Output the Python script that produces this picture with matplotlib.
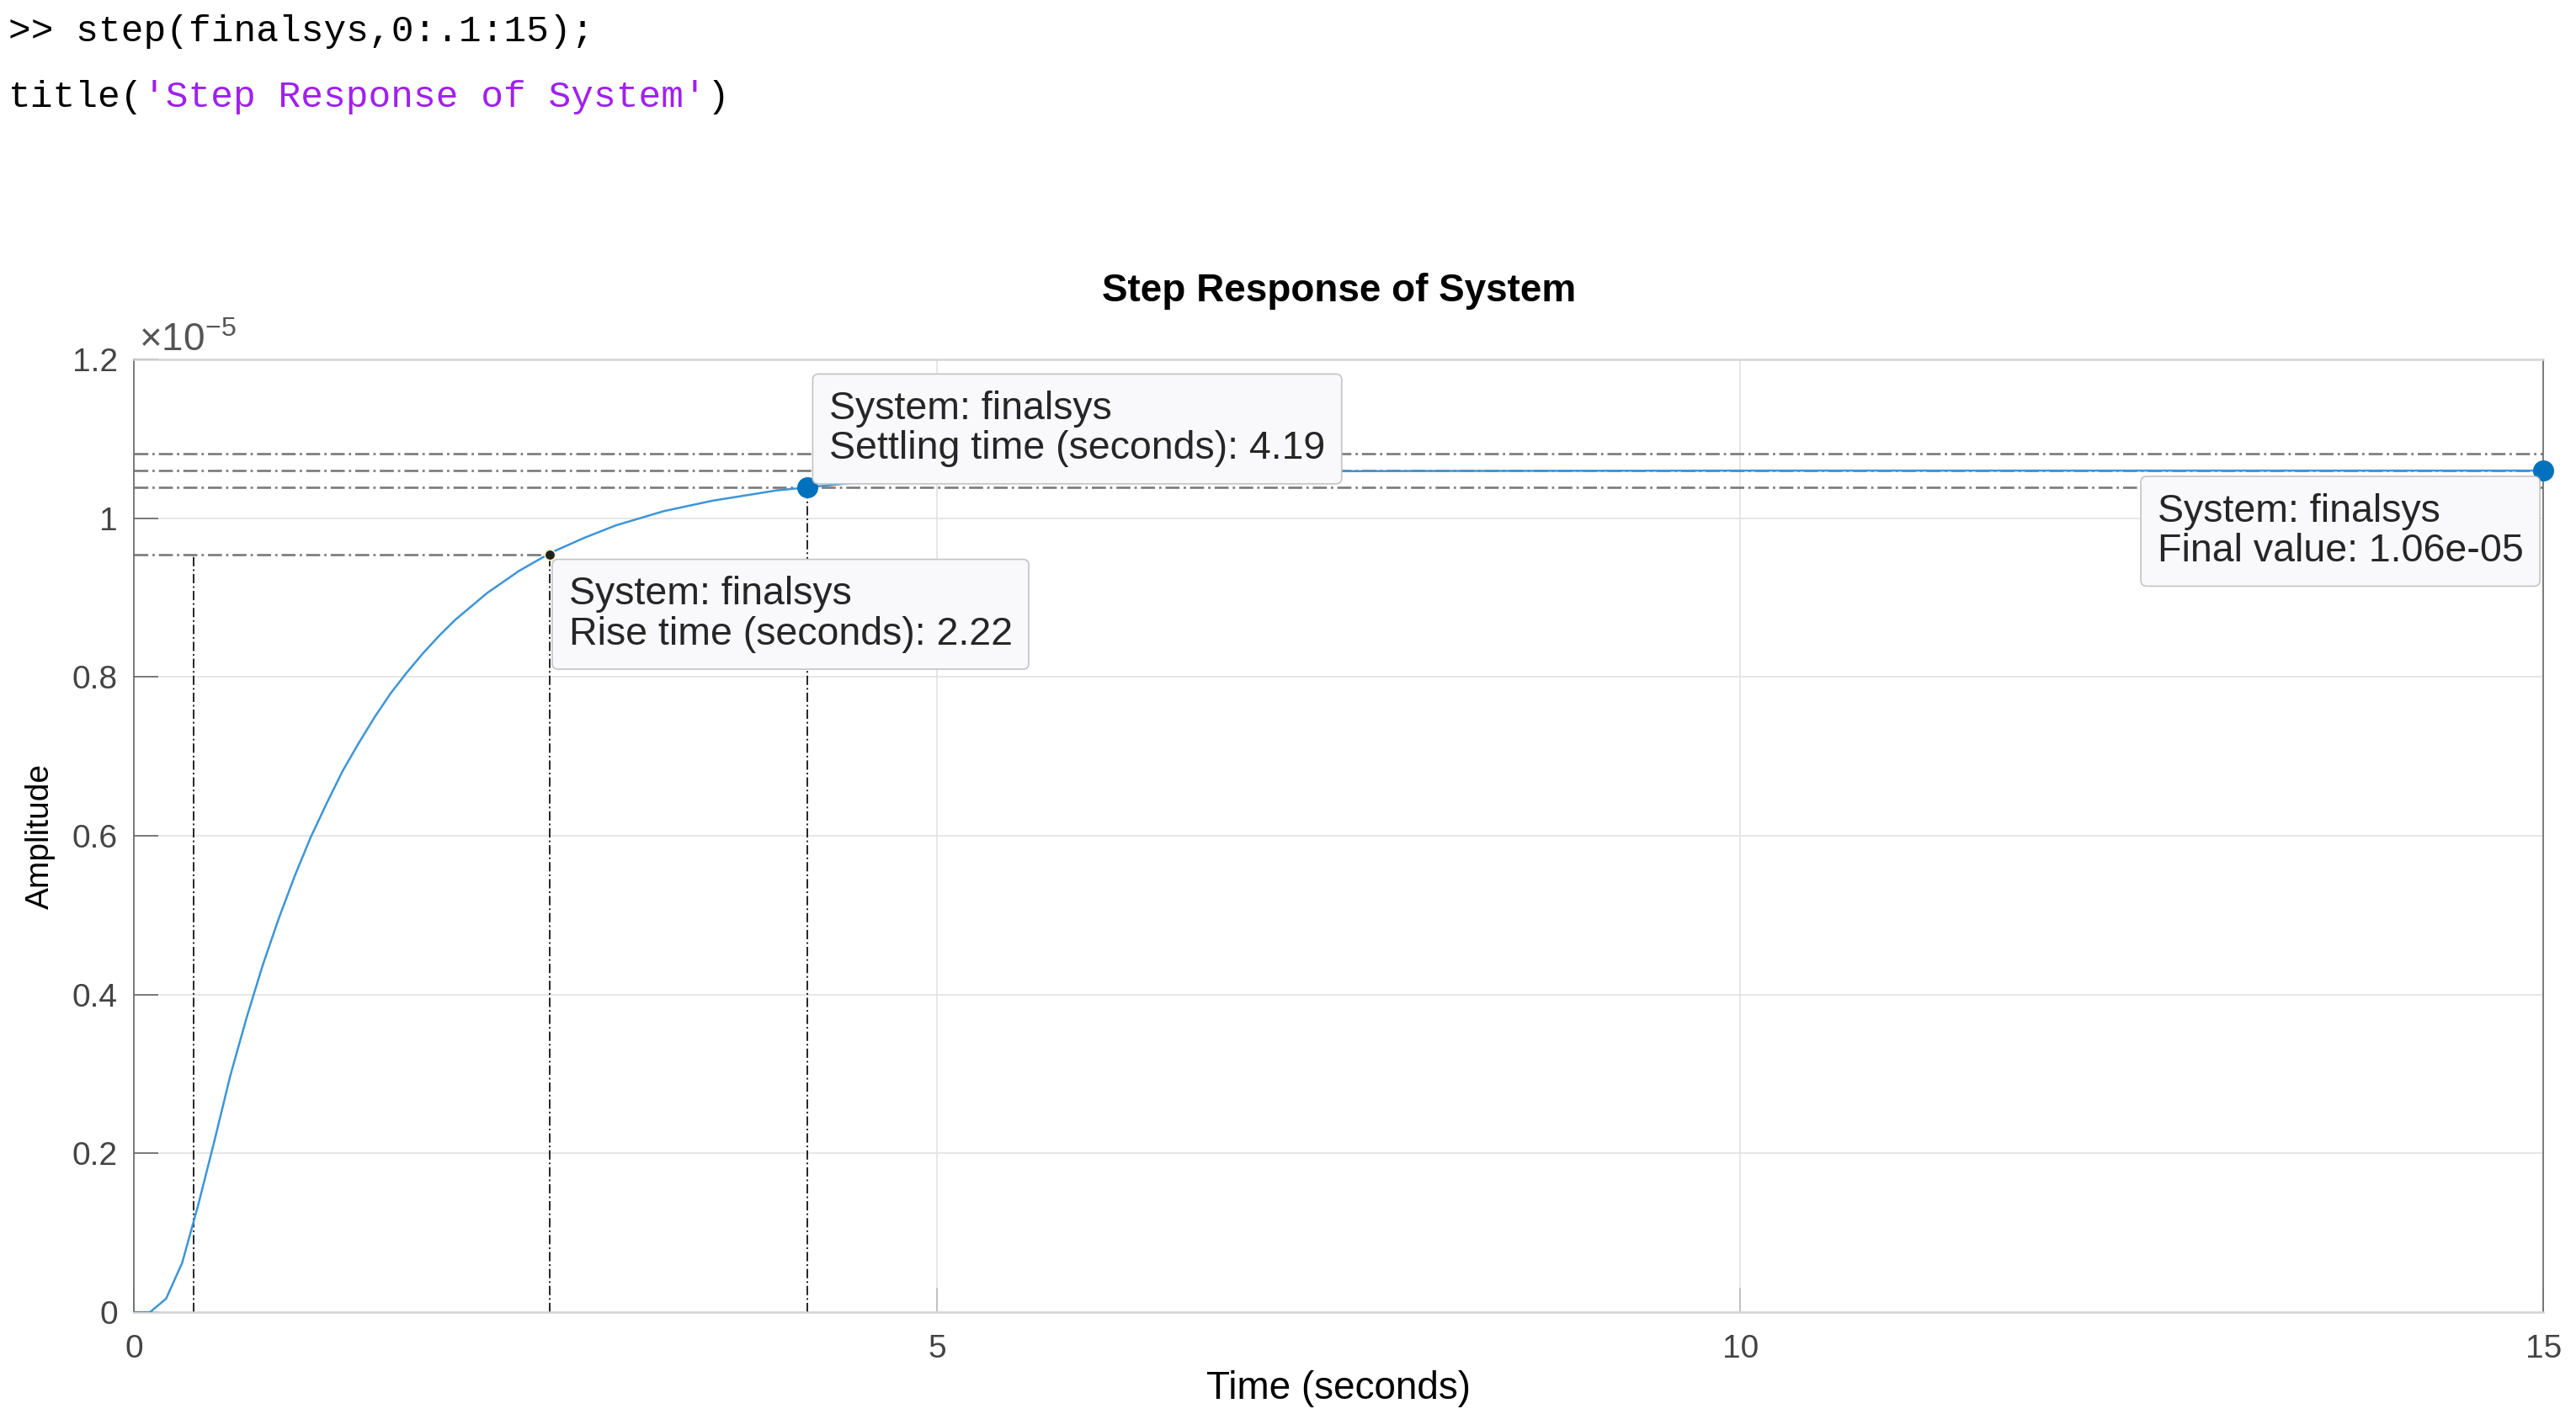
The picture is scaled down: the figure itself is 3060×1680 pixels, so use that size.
import matplotlib.pyplot as plt

plt.rcParams['font.family'] = ['Liberation Sans', 'DejaVu Sans']
plt.rcParams['mathtext.fontset'] = 'custom'
plt.rcParams['mathtext.rm'] = 'Liberation Sans'
plt.rcParams['lines.scale_dashes'] = False

# step(finalsys, 0:.1:15), amplitude in units of 1e-5
t = [0, 0.1, 0.2, 0.3, 0.4, 0.5, 0.6, 0.7, 0.8, 0.9, 1.0, 1.1, 1.2, 1.3,
     1.4, 1.5, 1.6, 1.7, 1.8, 1.9, 2.0, 2.2, 2.4, 2.6, 2.8, 3.0, 3.3, 3.6,
     4.0, 4.5, 5.0, 5.5, 6.0, 7.0, 8.0, 10.0, 15.0]
amp = [0, 0.0, 0.017, 0.062, 0.135, 0.215, 0.298, 0.37, 0.436, 0.495, 0.549,
       0.598, 0.641, 0.682, 0.717, 0.75, 0.78, 0.806, 0.83, 0.852, 0.872,
       0.906, 0.934, 0.957, 0.975, 0.991, 1.009, 1.022, 1.035, 1.045, 1.051,
       1.054, 1.057, 1.059, 1.0595, 1.06, 1.06]

# characteristics shown by the data tips
rise_times = [0.37, 2.59]     # 10% and 90% crossings
rise_level = 0.954
settle_time = 4.19
settle_level = 1.039
settle_band = [1.0388, 1.0812]
final_value = 1.06
t_end = 15

xticks = [0, 5, 10, 15]
yticks = [0, 0.2, 0.4, 0.6, 0.8, 1.0, 1.2]
ytick_labels = ['0', '0.2', '0.4', '0.6', '0.8', '1', '1.2']

fig = plt.figure(figsize=(30.6, 16.8), dpi=100)
ax = fig.add_axes([0.052, 0.072, 0.9353, 0.6738])

dashdot = (0, (12, 3.5, 2, 3.5))
vdashdot = (0, (8, 2.5, 1.5, 2.5))
grey = '#7a7a7a'

# characteristic lines
ax.plot([0, rise_times[1]], [rise_level, rise_level], color=grey,
        lw=1.9, linestyle=dashdot, zorder=2)
for rt in rise_times:
    ax.plot([rt, rt], [0, rise_level], color='black', lw=1.2,
            linestyle=vdashdot, zorder=2)
for lvl in settle_band + [final_value]:
    ax.plot([0, t_end], [lvl, lvl], color=grey, lw=1.9, linestyle=dashdot,
            zorder=2)
ax.plot([settle_time, settle_time], [0, settle_level], color='black', lw=1.2,
        linestyle=vdashdot, zorder=2)

# response
ax.plot(t, amp, color='#3d95d8', lw=1.8, zorder=3)

# data tip markers
ax.plot(rise_times[1], rise_level, 'o', ms=9, mfc='#222222', mec='#f4f0c0',
        mew=1.2, zorder=5)
ax.plot(settle_time, settle_level, 'o', ms=17, color='#0072BD', zorder=5)
ax.plot(t_end, final_value, 'o', ms=17, color='#0072BD', zorder=5,
        clip_on=False)

box = dict(boxstyle='round,pad=0.42,rounding_size=0.15', fc='#f9f9fc',
           ec='#c4c4c4', lw=1.2)
tip = dict(fontsize=33.5, color='#262626', bbox=box, linespacing=1.1,
           textcoords='offset points', zorder=10, annotation_clip=False,
           multialignment='left')
ax.annotate('System: finalsys\nRise time (seconds): 2.22',
            xy=(rise_times[1], rise_level), xytext=(16, -18),
            ha='left', va='top', **tip)
ax.annotate('System: finalsys\nSettling time (seconds): 4.19',
            xy=(settle_time, settle_level), xytext=(19, 17),
            ha='left', va='bottom', **tip)
ax.annotate('System: finalsys\nFinal value: 1.06e-05',
            xy=(t_end, final_value), xytext=(-17, -19),
            ha='right', va='top', **tip)

ax.set_xlim(0, t_end)
ax.set_ylim(0, 1.2)
ax.set_xticks(xticks)
ax.set_yticks(yticks)
ax.set_yticklabels(ytick_labels)
ax.tick_params(direction='in', length=21, width=1.2, color='#666666',
               labelcolor='#444444', labelsize=28, pad=14)
ax.tick_params(axis='x', pad=19, color='#bbbbbb')
ax.grid(True, color='#e4e4e4', lw=1.3)
ax.set_axisbelow(True)
for side in ['top', 'bottom']:
    ax.spines[side].set_color('#d4d4d4')
    ax.spines[side].set_linewidth(1.8)
for side in ['left', 'right']:
    ax.spines[side].set_color('#666666')
    ax.spines[side].set_linewidth(1.2)

ax.text(0.002, 1.0, r'$\mathregular{\times10^{-5}}$', transform=ax.transAxes,
        fontsize=33, color='#555555', ha='left', va='bottom')

ax.set_title('Step Response of System', fontsize=33, fontweight='bold',
             pad=50)
ax.set_xlabel('Time (seconds)', fontsize=33, labelpad=5)
ax.set_ylabel('Amplitude', fontsize=28, labelpad=14)

# command window text above the figure
mono = dict(family='Liberation Mono', fontsize=32)
fig.text(10 / 3060, 1 - 58 / 1680, '>> step(finalsys,0:.1:15);',
         va='bottom', color='black', **mono)
t1 = fig.text(10 / 3060, 1 - 136 / 1680, 'title(', va='bottom',
              color='black', **mono)
t2 = ax.annotate("'Step Response of System'", xy=(1, 0), xycoords=t1,
                 va='bottom', ha='left', color='#A020F0',
                 annotation_clip=False, **mono)
ax.annotate(')', xy=(1, 0), xycoords=t2, va='bottom', ha='left',
            color='black', annotation_clip=False, **mono)

fig.savefig('out.png', dpi=100, facecolor='white')
